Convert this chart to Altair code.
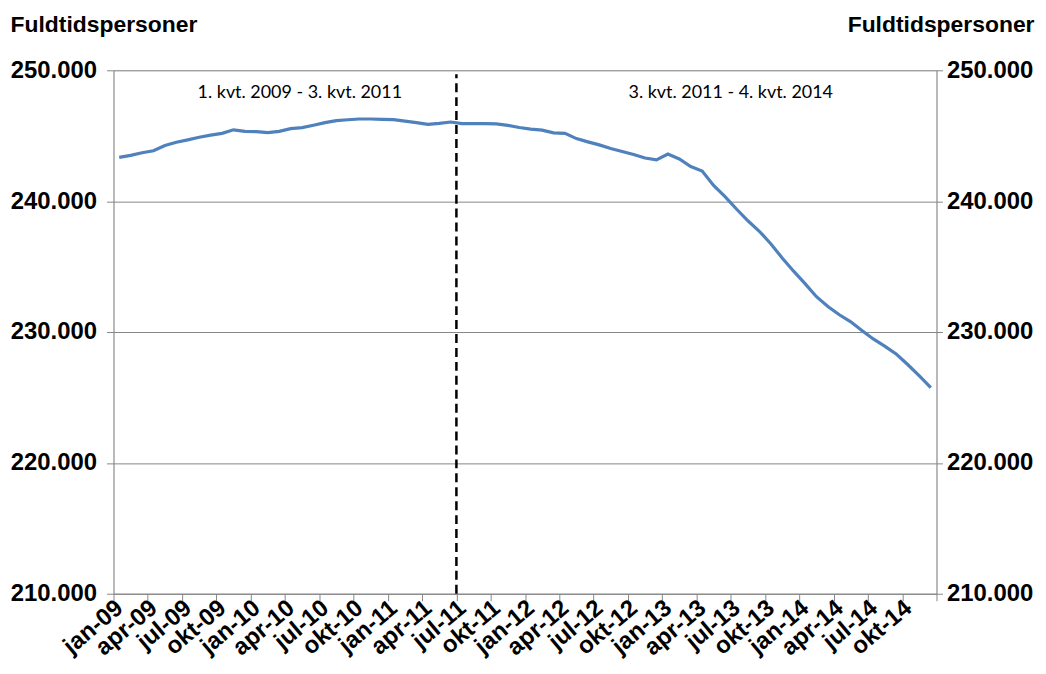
import altair as alt
import pandas as pd

month_names = ["jan", "feb", "mar", "apr", "maj", "jun", "jul", "aug", "sep", "okt", "nov", "dec"]
years = ["09", "10", "11", "12", "13", "14"]

values = [
    243350, 243500, 243700, 243850, 244250, 244500, 244680, 244880, 245050, 245180, 245450, 245330,
    245310, 245240, 245330, 245540, 245620, 245800, 246000, 246150, 246220, 246280, 246280, 246250,
    246230, 246120, 246000, 245870, 245950, 246050, 245920, 245920, 245920, 245900, 245790, 245630,
    245500, 245430, 245220, 245180, 244780, 244530, 244300, 244020, 243800, 243570, 243300, 243150,
    243600, 243220, 242650, 242300, 241200, 240350, 239400, 238500, 237700, 236750, 235660, 234650,
    233700, 232700, 231950, 231320, 230780, 230100, 229450, 228900, 228300, 227500, 226650, 225750,
]

tick_labels = [m + "-" + y for y in years for m in ["jan", "apr", "jul", "okt"]]
y_ticks = [210000, 220000, 230000, 240000, 250000]

annotations = ["1. kvt. 2009 - 3. kvt. 2011", "3. kvt. 2011 - 4. kvt. 2014"]
annotation_pos = [16.3, 54.0]
annotation_val = [248270, 248270]
break_month = 30

labels = [m + "-" + y for y in years for m in month_names]
df = pd.DataFrame({"month": labels, "value": values})
df["pos"] = df.index + 0.5

n = len(labels)
FONT = "Liberation Sans"
GREY = "#868686"

js_labels = "[" + ",".join("'" + t + "'" for t in tick_labels) + "]"
label_expr = js_labels + "[datum.value/3] || ''"
num_expr = "replace(format(datum.value, ','), ',', '.')"

xscale = alt.Scale(domain=[0, n], nice=False, zero=False)
yscale = alt.Scale(domain=[210000, 250000], nice=False, zero=False)

x_axis = alt.Axis(
    values=list(range(0, n + 1, 3)), labelExpr=label_expr, title=None, grid=False,
    labelAngle=-40, labelAlign="right", labelBaseline="middle", labelOffset=6,
    labelFont=FONT, labelFontSize=24, labelFontWeight="bold", labelColor="black",
    labelPadding=4, tickSize=7, tickColor=GREY, domainColor=GREY, labelOverlap=False,
)

left_axis = alt.Axis(
    values=y_ticks, labelExpr=num_expr, grid=True, gridColor=GREY,
    labelFont=FONT, labelFontSize=24, labelFontWeight="bold", labelColor="black",
    labelPadding=10, tickSize=7, tickColor=GREY, domainColor=GREY,
    title="Fuldtidspersoner", titleAngle=0, titleAlign="left", titleBaseline="alphabetic",
    titleX=-104, titleY=-39, titleFont=FONT, titleFontSize=23, titleFontWeight="bold",
    titleColor="black",
)

right_axis = alt.Axis(
    values=y_ticks, labelExpr=num_expr, grid=False, orient="right",
    labelFont=FONT, labelFontSize=24, labelFontWeight="bold", labelColor="black",
    labelPadding=4, tickSize=6, tickColor=GREY, domainColor=GREY,
    title="Fuldtidspersoner", titleAngle=0, titleAlign="right", titleBaseline="alphabetic",
    titleX=98, titleY=-39, titleFont=FONT, titleFontSize=23, titleFontWeight="bold",
    titleColor="black",
)

X = alt.X("pos:Q", scale=xscale, axis=x_axis)

line_left = alt.Chart(df).mark_line(color="#4F81BD", strokeWidth=3.2).encode(
    x=X,
    y=alt.Y("value:Q", scale=yscale, axis=left_axis),
)

line_right = alt.Chart(df).mark_line(color="#4F81BD", strokeWidth=3, opacity=0).encode(
    x=X,
    y=alt.Y("value:Q", scale=yscale, axis=right_axis),
)

rule_df = pd.DataFrame({"pos": [break_month], "value": [210000], "value2": [249700]})
rule = alt.Chart(rule_df).mark_rule(color="black", strokeWidth=2.5, strokeDash=[9, 5]).encode(
    x=X,
    y=alt.Y("value:Q", scale=yscale, axis=None),
    y2="value2:Q",
)

ann_df = pd.DataFrame({"text": annotations, "pos": annotation_pos, "value": annotation_val})
ann = alt.Chart(ann_df).mark_text(font="Lato", fontSize=18, color="black", align="center",
                                  baseline="middle").encode(
    x=X,
    y=alt.Y("value:Q", scale=yscale, axis=None),
    text="text:N",
)

chart = alt.layer(rule, ann, line_left, line_right).resolve_axis(y="independent").properties(
    width=827, height=526,
    autosize=alt.AutoSizeParams(type="none"),
    padding={"left": 106, "top": 61, "right": 102, "bottom": 70},
).configure_view(stroke=None).configure(background="white")

chart.save("out.html", embed_options={"renderer": "svg", "actions": False})
